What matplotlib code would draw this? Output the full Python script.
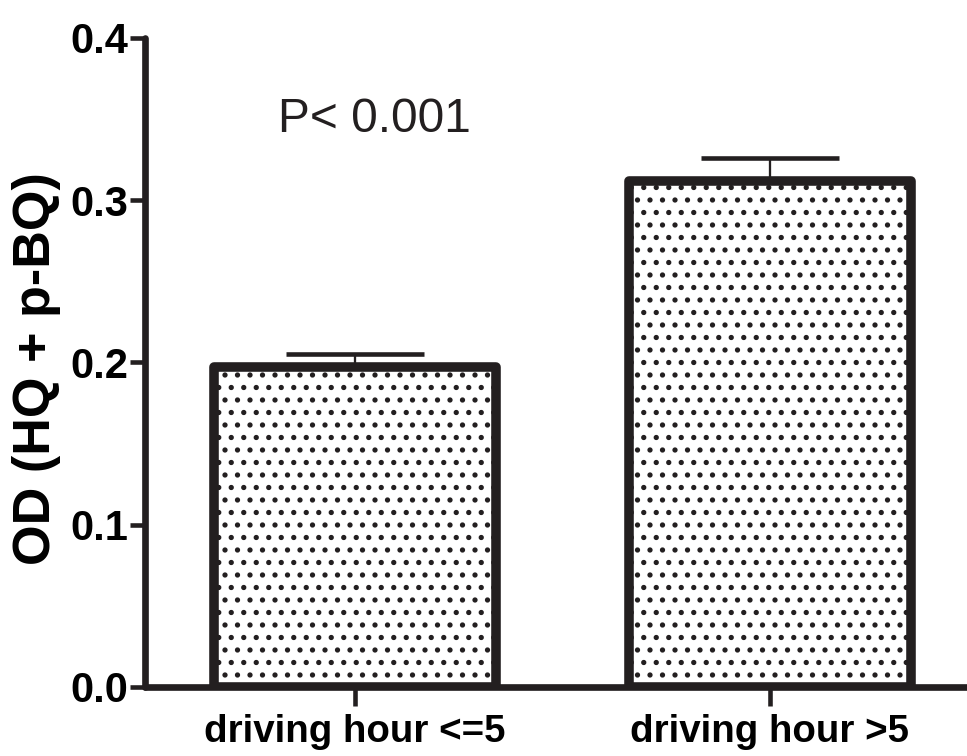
import matplotlib
matplotlib.use("Agg")
import matplotlib.pyplot as plt

categories = ["driving hour <=5", "driving hour >5"]
means = [0.197, 0.312]
errors = [0.008, 0.014]
yticks = [0.0, 0.1, 0.2, 0.3, 0.4]
ytick_labels = ["0.0", "0.1", "0.2", "0.3", "0.4"]

fam = "Liberation Sans"
ink = "#231f20"

plt.rcParams['hatch.linewidth'] = 1.3
fig = plt.figure(figsize=(967 / 150, 756 / 150), dpi=150)
ax = fig.add_axes([0.150, 0.0913, 0.85, 0.8585])

x = [0, 1]
bars = ax.bar(x, means, width=0.68, facecolor="white", edgecolor=ink,
              linewidth=4.6, hatch="..", zorder=2)
for b in bars:
    b.set_joinstyle("round")
ax.errorbar(x, means, yerr=[[0, 0], errors], fmt="none", ecolor=ink,
            elinewidth=1.1, capsize=33, capthick=2.2, zorder=1)

ax.set_xlim(-0.506, 1.475)
ax.set_ylim(0, 0.4)
ax.set_yticks(yticks)
ax.set_yticklabels(ytick_labels, fontsize=20, fontweight="bold", family=fam)
ax.set_xticks(x)
ax.set_xticklabels(categories, fontsize=18.5, fontweight="bold", family=fam)
ax.set_ylabel("OD (HQ + p-BQ)", fontsize=25, fontweight="bold", family=fam, labelpad=0)
ax.yaxis.set_label_coords(-0.102, 0.49)

for s in ["top", "right"]:
    ax.spines[s].set_visible(False)
for s in ["left", "bottom"]:
    ax.spines[s].set_linewidth(3.2)
    ax.spines[s].set_color(ink)
    ax.spines[s].set_capstyle("round")
ax.spines["bottom"].set_zorder(3)
ax.tick_params(axis="both", width=2.2, length=7, color=ink, pad=1)
ax.tick_params(axis="x", length=9, pad=4)

ax.text(0.046, 0.3495, "P< 0.001", fontsize=23, family=fam, color=ink,
        ha="center", va="center")

fig.savefig("out.png", dpi=150)
